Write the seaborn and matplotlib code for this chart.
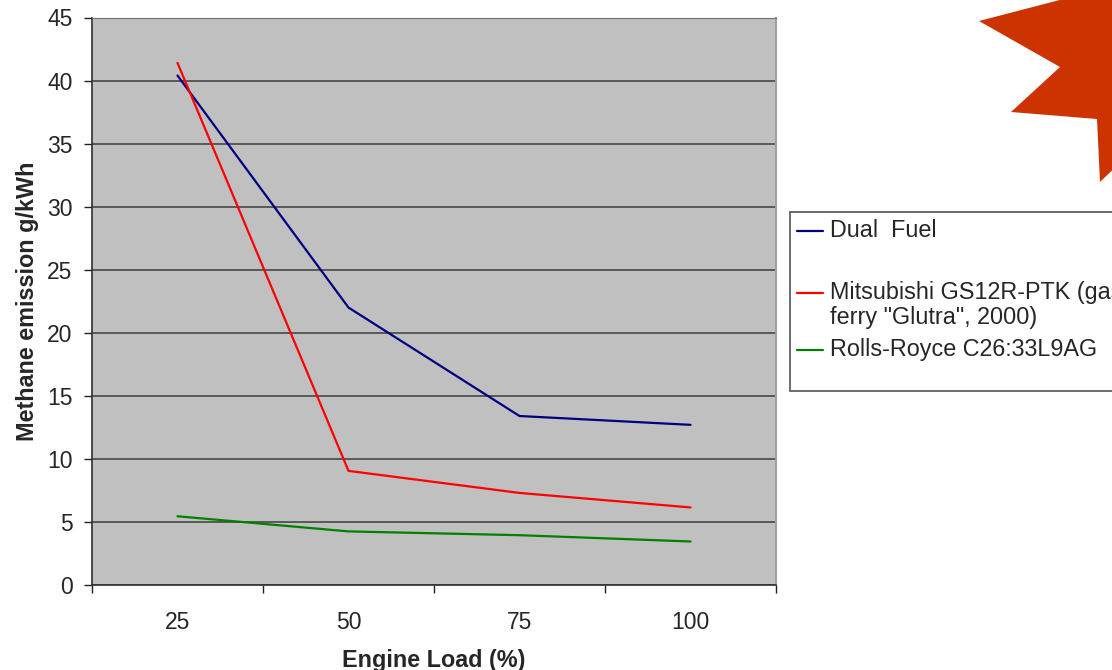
import pandas as pd
import seaborn as sb
from matplotlib import pyplot as plt
from matplotlib.patches import Polygon, Rectangle
from matplotlib.lines import Line2D

# data
loads = ['25', '50', '75', '100']
dual_fuel = [40.4, 22.0, 13.4, 12.7]
mitsubishi = [41.4, 9.05, 7.3, 6.15]
rolls_royce = [5.45, 4.25, 3.95, 3.45]

series = ['Dual  Fuel', 'Mitsubishi GS12R-PTK (gas\nferry "Glutra", 2000)',
          'Rolls-Royce C26:33L9AG']
colors = ['#000080', '#FF0000', '#008000']

rows = []
for name, vals in zip(series, [dual_fuel, mitsubishi, rolls_royce]):
    for i, v in enumerate(vals):
        rows.append({'pos': i, 'load': loads[i], 'value': v, 'engine': name})
df = pd.DataFrame(rows)

sb.set_style('white')
plt.rcParams['font.family'] = ['Liberation Sans', 'DejaVu Sans']

W, H = 1112, 670
fig = plt.figure(figsize=(W / 100, H / 100), dpi=100)
ax = fig.add_axes([92 / W, 1 - 585 / H, 684 / W, 567.5 / H])
ax.set_facecolor('#C0C0C0')

sb.lineplot(data=df, x='pos', y='value', hue='engine', palette=colors,
            linewidth=1.6, ax=ax, legend=False, zorder=3)

ax.set_xlim(-0.5, 3.5)
ax.set_ylim(0, 45)
ax.set_yticks(range(0, 46, 5))
ax.yaxis.grid(True, color='#3c3c3c', linewidth=1.1, zorder=1)
ax.set_axisbelow(True)

ax.set_xticks(range(4))
ax.set_xticklabels(loads)
ax.set_xticks([-0.5, 0.5, 1.5, 2.5, 3.5], minor=True)
ax.tick_params(axis='x', which='major', length=0, pad=19, labelsize=16.5)
ax.tick_params(axis='x', which='minor', length=6, width=1, color='#202020',
               direction='out', bottom=True)
ax.tick_params(axis='y', which='major', length=6, width=1, color='#202020',
               direction='out', left=True, pad=8, labelsize=16.5)

for s in ['left', 'bottom']:
    ax.spines[s].set_color('#303030')
    ax.spines[s].set_linewidth(1.2)
ax.spines['top'].set_color('#707070')
ax.spines['right'].set_color('#A0A0A0')
ax.spines['right'].set_linewidth(1.5)

ax.set_xlabel('Engine Load (%)', fontsize=16.8, fontweight='bold', va='center')
ax.set_ylabel('Methane emission g/kWh', fontsize=16.8, fontweight='bold',
              va='center')
ax.xaxis.set_label_coords(0.5, (585 - 660) / 567.5)
ax.yaxis.set_label_coords((28 - 92) / 684, 0.5)


def fx(px):
    return px / W


def fy(py):
    return 1 - py / H


# legend box drawn by hand, clipped at the right edge like the original
fig.add_artist(Rectangle((fx(790), fy(391)), fx(340), 179 / H,
                         transform=fig.transFigure, facecolor='white',
                         edgecolor='#606060', linewidth=1.3))
for col, yy in zip(colors, [231, 293, 350]):
    fig.add_artist(Line2D([fx(797), fx(823)], [fy(yy), fy(yy)],
                          transform=fig.transFigure, color=col, linewidth=1.6))

fig.text(fx(830), fy(231), series[0], fontsize=16.8, va='center', ha='left')
fig.text(fx(830), fy(293 - 12), series[1], fontsize=16.8, va='top', ha='left',
         linespacing=1.12)
fig.text(fx(830), fy(350), series[2], fontsize=16.8, va='center', ha='left')

# orange starburst in the top right corner
star = [(979, 21), (1060, 67), (1011, 112), (1097, 119), (1100, 182),
        (1125, 158), (1125, -5), (1079, -5)]
fig.add_artist(Polygon([(fx(x), fy(y)) for x, y in star], closed=True,
                       transform=fig.transFigure, facecolor='#CC3300',
                       edgecolor='none'))

plt.savefig('out.png', dpi=100)
